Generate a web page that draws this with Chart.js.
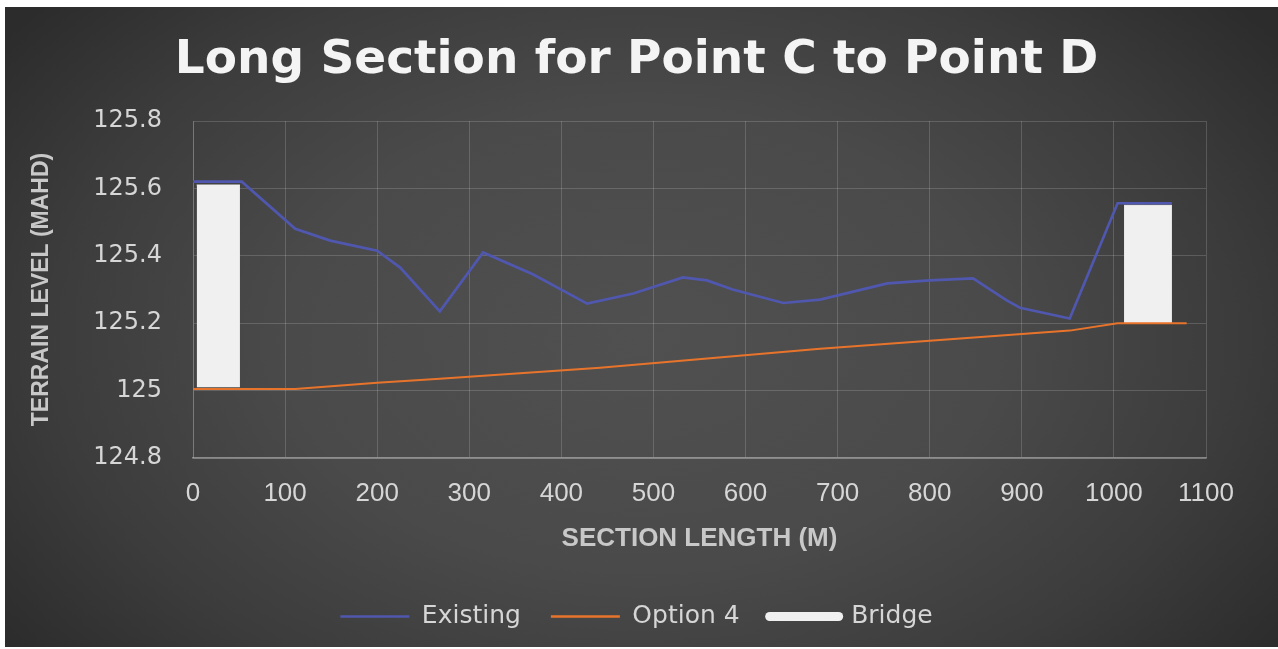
<!DOCTYPE html>
<html>
<head>
<meta charset="utf-8">
<script src="https://cdn.jsdelivr.net/npm/chart.js@4.4.1/dist/chart.umd.min.js"></script>
<style>
  html, body { margin: 0; padding: 0; background: #ffffff; width: 1278px; height: 649px; overflow: hidden; }
  #panel {
    position: absolute; left: 5px; top: 7px; width: 1273px; height: 640px;
    background: radial-gradient(ellipse 62% 80% at 50% 52%, #505050 0%, #4a4a4a 45%, #3c3c3c 75%, #2c2c2c 100%);
  }
  canvas { display: block; }
</style>
</head>
<body>
<div id="panel"><canvas id="chart" width="1273" height="640"></canvas></div>
<script>
// Chainage (m) and ground level (m AHD) of the existing terrain
const existingDist  = [0, 53, 111, 149, 200, 225, 268, 315, 369, 428, 478, 532, 558, 586, 641, 681, 754, 800, 847, 884, 898, 952, 1004, 1063];
const existingLevel = [125.62, 125.62, 125.48, 125.445, 125.415, 125.365, 125.235, 125.41, 125.345, 125.258, 125.288, 125.336, 125.327, 125.30, 125.26, 125.27, 125.318, 125.327, 125.333, 125.267, 125.246, 125.214, 125.556, 125.556];

// Design profile for Option 4
const optionDist  = [0, 111, 200, 268, 442, 681, 952, 1004, 1079];
const optionLevel = [125.005, 125.005, 125.023, 125.035, 125.068, 125.124, 125.178, 125.2, 125.2];

// Bridge spans: start/end chainage, deck level and base level
const bridgeStart = [4, 1011];
const bridgeEnd   = [51, 1063];
const bridgeDeck  = [125.61, 125.55];
const bridgeBase  = [125.01, 125.2];

// Axis ticks
const xTickValues = [0, 100, 200, 300, 400, 500, 600, 700, 800, 900, 1000, 1100];
const yTickValues = [124.8, 125, 125.2, 125.4, 125.6, 125.8];

const EXISTING_COLOR = '#5057ae';
const OPTION_COLOR = '#e8742c';
const BRIDGE_COLOR = '#f0f0f0';

const toPoints = (xs, ys) => xs.map((x, i) => ({ x: x, y: ys[i] }));

const bridgeSets = bridgeStart.map((s, i) => ({
  label: 'Bridge',
  data: [{ x: s, y: bridgeDeck[i] }, { x: bridgeEnd[i], y: bridgeDeck[i] }],
  borderColor: BRIDGE_COLOR,
  backgroundColor: BRIDGE_COLOR,
  borderWidth: 1,
  pointRadius: 0,
  fill: { target: { value: bridgeBase[i] } },
  pointStyle: 'line'
}));

const gridColor = 'rgba(255,255,255,0.16)';

new Chart(document.getElementById('chart'), {
  type: 'line',
  data: {
    datasets: [
      {
        label: 'Existing',
        data: toPoints(existingDist, existingLevel),
        borderColor: EXISTING_COLOR,
        backgroundColor: EXISTING_COLOR,
        borderWidth: 2.7,
        pointRadius: 0,
        tension: 0,
        fill: false,
        pointStyle: 'line'
      },
      {
        label: 'Option 4',
        data: toPoints(optionDist, optionLevel),
        borderColor: OPTION_COLOR,
        backgroundColor: OPTION_COLOR,
        borderWidth: 2,
        pointRadius: 0,
        tension: 0,
        fill: false,
        pointStyle: 'line'
      },
      ...bridgeSets
    ]
  },
  options: {
    responsive: false,
    animation: false,
    events: [],
    layout: { padding: { left: 0, right: 10, top: 0, bottom: 8 } },
    scales: {
      x: {
        type: 'linear',
        min: 0,
        max: 1100,
        afterBuildTicks: (scale) => { scale.ticks = xTickValues.map(v => ({ value: v })); },
        afterFit: (scale) => { scale.height = 116; },
        ticks: {
          color: '#d6d6d6',
          font: { family: 'Liberation Sans', size: 26 },
          padding: 20.4,
          maxRotation: 0,
          autoSkip: false,
          callback: (v) => String(v)
        },
        grid: { color: gridColor, lineWidth: 1, drawTicks: false },
        border: { color: 'rgba(255,255,255,0.38)', width: 1.5 },
        title: {
          display: true,
          text: 'SECTION LENGTH (M)',
          color: '#c8c8c8',
          font: { family: 'Liberation Sans', size: 26, weight: 'bold' },
          padding: { top: 0, bottom: 19.4 }
        }
      },
      y: {
        min: 124.8,
        max: 125.8,
        afterBuildTicks: (scale) => { scale.ticks = yTickValues.map(v => ({ value: v })); },
        afterFit: (scale) => { scale.width = 188; },
        ticks: {
          color: '#d6d6d6',
          font: { family: 'DejaVu Sans', size: 24 },
          padding: 31,
          callback: (v) => String(Number(v.toFixed(1)))
        },
        grid: { color: gridColor, lineWidth: 1, drawTicks: false },
        border: { color: gridColor, width: 1 },
        title: {
          display: true,
          text: 'TERRAIN LEVEL (MAHD)',
          color: '#c8c8c8',
          font: { family: 'Liberation Sans', size: 23, weight: 'bold' },
          padding: { top: 23, bottom: 0 }
        }
      },
      // empty right-hand margin so the plot ends at 1100 m while title and legend stay centred on the panel
      margin: {
        position: 'right',
        display: true,
        afterFit: (scale) => { scale.width = 62; },
        grid: { display: false },
        ticks: { display: false },
        border: { display: false }
      }
    },
    plugins: {
      title: {
        display: true,
        text: 'Long Section for Point C to Point D',
        color: '#f4f4f4',
        font: { family: 'DejaVu Sans', size: 47, weight: 'bold' },
        padding: { top: 25.4, bottom: 32.2 }
      },
      legend: {
        display: true,
        position: 'bottom',
        labels: {
          color: '#d6d6d6',
          font: { family: 'DejaVu Sans', size: 25 },
          usePointStyle: true,
          pointStyleWidth: 69,
          padding: 30,
          filter: (item, data) => {
            const first = data.datasets.findIndex(d => d.label === item.text);
            return first === item.datasetIndex;
          },
          generateLabels: (chart) => {
            const base = Chart.defaults.plugins.legend.labels.generateLabels(chart);
            return base.map(item => {
              const ds = chart.data.datasets[item.datasetIndex];
              const isBridge = ds.label === 'Bridge';
              return Object.assign(item, {
                pointStyle: 'line',
                strokeStyle: ds.borderColor,
                fillStyle: ds.borderColor,
                lineWidth: isBridge ? 9 : 2.5,
                lineCap: isBridge ? 'round' : 'butt'
              });
            });
          }
        }
      },
      tooltip: { enabled: false }
    }
  }
});
</script>
</body>
</html>
